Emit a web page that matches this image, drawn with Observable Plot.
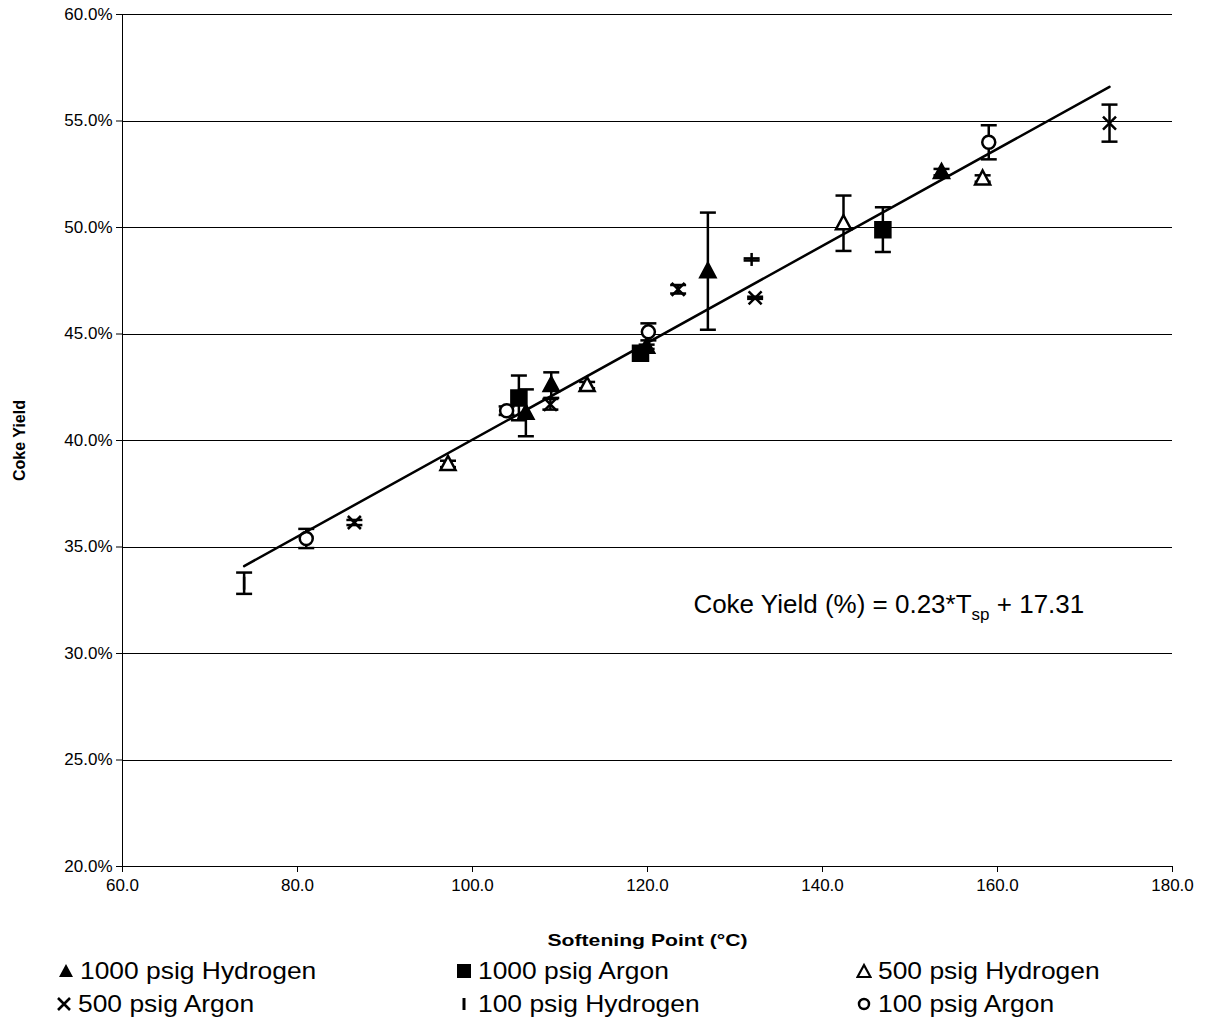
<!DOCTYPE html>
<html><head><meta charset="utf-8">
<script src="https://cdn.jsdelivr.net/npm/d3@7"></script>
<script src="https://cdn.jsdelivr.net/npm/@observablehq/plot@0.6"></script>
<style>
body{margin:0;background:#fff;font-family:"Liberation Sans",Arial,sans-serif;}
#legend{position:relative;width:1212px;height:69px;font-size:24px;color:#000;}
.item{position:absolute;display:flex;align-items:center;white-space:nowrap;height:32px;}
.item svg{margin-right:6px;}
.item span{display:inline-block;transform-origin:left center;transform:scaleX(1.1);}
</style></head><body>
<div id="chart"></div>
<div id="legend"></div>
<script>
// ---- data ----
const seriesNames = ["1000 psig Hydrogen","1000 psig Argon","500 psig Hydrogen","500 psig Argon","100 psig Hydrogen","100 psig Argon"];
const pointSeries = [
  "100 psig Hydrogen","100 psig Argon","500 psig Argon","500 psig Hydrogen","100 psig Argon",
  "1000 psig Argon","1000 psig Hydrogen","500 psig Argon","1000 psig Hydrogen","500 psig Hydrogen",
  "1000 psig Argon","1000 psig Hydrogen","100 psig Argon","500 psig Argon","1000 psig Hydrogen",
  "100 psig Hydrogen","500 psig Argon","500 psig Hydrogen","1000 psig Argon","1000 psig Hydrogen",
  "500 psig Hydrogen","100 psig Argon","500 psig Argon"];
const softeningPoint = [73.9,81.0,86.5,97.2,103.9, 105.3,106.1,108.9,109.0,113.1, 119.2,119.9,120.1,123.5,126.9, 131.9,132.3,142.4,146.9,153.6, 158.3,159.0,172.8];
const cokeYield =      [33.3,35.4,36.15,38.9,41.4, 42.0,41.3,41.7,42.6,42.6, 44.1,44.4,45.1,47.1,47.95, 48.5,46.7,50.2,49.9,52.6, 52.3,54.0,54.9];
const yieldError =     [0.5,0.45,0.12,0.15,0.2, 1.05,1.1,0.25,0.6,0.15, 0.1,0.1,0.4,0.2,2.75, 0.05,0.05,1.3,1.05,0.15, 0.15,0.8,0.87];
const fitSlope = 0.2275, fitIntercept = 17.29;
const xTicks = [60,80,100,120,140,160,180];
const yTicks = [20,25,30,35,40,45,50,55,60];
const equationText = "Coke Yield (%) = 0.23*T", equationSub = "sp", equationTail = " + 17.31";
const equationPos = {x:125.3, y:31.9};

const data = softeningPoint.map((x,i)=>({series:pointSeries[i], x, y:cokeYield[i], lo:cokeYield[i]-yieldError[i], hi:cokeYield[i]+yieldError[i]}));
const xMin = d3.min(softeningPoint), xMax = d3.max(softeningPoint);
const fitLine = [xMin, xMax].map(x=>({x, y: fitSlope*x + fitIntercept}));

// ---- symbols ----
const sym = {
  tri:{draw(c){c.moveTo(0,-8);c.lineTo(7.5,6);c.lineTo(-7.5,6);c.closePath();}},
  sq:{draw(c){c.rect(-7.5,-7.5,15,15);}},
  x:{draw(c){c.moveTo(-6.5,-6.5);c.lineTo(6.5,6.5);c.moveTo(6.5,-6.5);c.lineTo(-6.5,6.5);}},
  dash:{draw(c){c.moveTo(0,-6.5);c.lineTo(0,6.5);}},
  circ:{draw(c){c.arc(0,0,6.5,0,2*Math.PI);}},
  cap:{draw(c){c.moveTo(-8,0);c.lineTo(8,0);}}
};
const style = {
  "1000 psig Hydrogen":{symbol:sym.tri, fill:"black", stroke:"black"},
  "1000 psig Argon":{symbol:sym.sq, fill:"black", stroke:"black"},
  "500 psig Hydrogen":{symbol:sym.tri, fill:"white", stroke:"black"},
  "500 psig Argon":{symbol:sym.x, fill:"none", stroke:"black"},
  "100 psig Hydrogen":{symbol:sym.dash, fill:"none", stroke:"black"},
  "100 psig Argon":{symbol:sym.circ, fill:"white", stroke:"black"}
};

const marks = [
  Plot.ruleY(yTicks.slice(1), {stroke:"black", strokeWidth:1, shapeRendering:"crispEdges"}),
  Plot.ruleX([60], {stroke:"black", strokeWidth:1, shapeRendering:"crispEdges"}),
  Plot.ruleY([20], {stroke:"black", strokeWidth:1, shapeRendering:"crispEdges"}),
  Plot.ruleX(data, {x:"x", y1:"lo", y2:"hi", stroke:"black", strokeWidth:2.5}),
  Plot.dot(data, {x:"x", y:"lo", symbol:sym.cap, stroke:"black", strokeWidth:2.5}),
  Plot.dot(data, {x:"x", y:"hi", symbol:sym.cap, stroke:"black", strokeWidth:2.5}),
  ...seriesNames.map(s=>Plot.dot(data.filter(d=>d.series===s), {x:"x", y:"y", symbol:style[s].symbol, fill:style[s].fill, stroke:style[s].stroke, strokeWidth:2.5})),
  Plot.line(fitLine, {x:"x", y:"y", stroke:"black", strokeWidth:2.5}),
  Plot.axisX({ticks:xTicks, tickFormat:d=>d.toFixed(1), tickSize:6, tickPadding:6, fontSize:17,
    label:"Softening Point (°C)", labelAnchor:"center", labelArrow:"none", labelOffset:79}),
  Plot.axisY({ticks:yTicks, tickFormat:d=>d.toFixed(1)+"%", tickSize:6, tickPadding:4, fontSize:17,
    label:"Coke Yield", labelAnchor:"center", labelArrow:"none", labelOffset:109})
];

const plot = Plot.plot({
  width:1212, height:955,
  marginLeft:122, marginRight:40, marginTop:14, marginBottom:89,
  x:{domain:[60,180]},
  y:{domain:[20,60]},
  style:{fontFamily:'"Liberation Sans", Arial, sans-serif', fontSize:"17px", color:"black", background:"white"},
  marks
});
document.getElementById("chart").appendChild(plot);

const svg = d3.select(plot);
svg.selectAll('g[aria-label="y-axis label"] text')
  .style("font-weight","bold").style("font-size","16px");
svg.selectAll('g[aria-label="x-axis label"] text')
  .style("font-weight","bold").style("font-size","17px")
  .attr("textLength",200).attr("lengthAdjust","spacingAndGlyphs");

// equation annotation
const xs = plot.scale("x"), ys = plot.scale("y");
const eq = svg.append("text")
  .attr("x", xs.apply(equationPos.x)).attr("y", ys.apply(equationPos.y))
  .attr("text-anchor","start")
  .attr("font-size", 26).attr("fill","black")
  .attr("font-family",'"Liberation Sans", Arial, sans-serif');
eq.append("tspan").text(equationText);
eq.append("tspan").attr("font-size",17).attr("dy",7).text(equationSub);
eq.append("tspan").attr("dy",-7).text(equationTail);

// legend
const legendLayout = [[58,16],[456,16],[856,16],[56,49],[456,49],[856,49]];
const legendMarker = {
  "1000 psig Hydrogen":'<path d="M8,2 L15,15 L1,15 Z" fill="black"/>',
  "1000 psig Argon":'<rect x="1" y="2" width="14" height="14" fill="black"/>',
  "500 psig Hydrogen":'<path d="M8,3 L14.5,15 L1.5,15 Z" fill="white" stroke="black" stroke-width="2.2"/>',
  "500 psig Argon":'<path d="M2,3 L14,15 M14,3 L2,15" stroke="black" stroke-width="2.6"/>',
  "100 psig Hydrogen":'<path d="M8,3 L8,15" stroke="black" stroke-width="3"/>',
  "100 psig Argon":'<circle cx="8" cy="9" r="5" fill="white" stroke="black" stroke-width="2.5"/>'
};
const leg = document.getElementById("legend");
seriesNames.forEach((s,i)=>{
  const [l,cy] = legendLayout[i];
  const div = document.createElement("div");
  div.className="item";
  div.style.left = l+"px"; div.style.top = (cy-16)+"px";
  div.innerHTML = `<svg width="16" height="18" viewBox="0 0 16 18">${legendMarker[s]}</svg><span>${s}</span>`;
  leg.appendChild(div);
});
</script>
</body></html>
